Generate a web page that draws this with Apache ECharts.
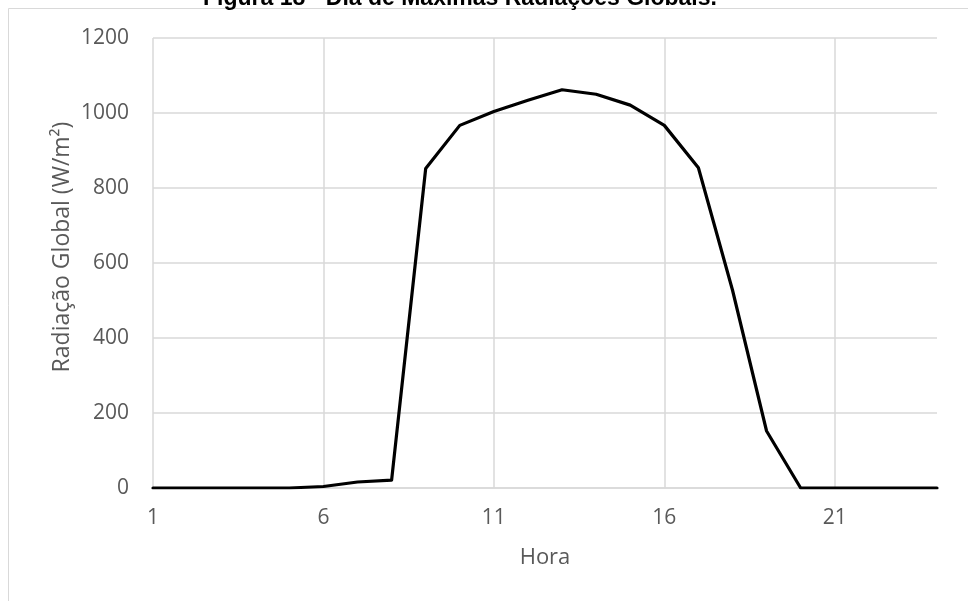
<!DOCTYPE html>
<html>
<head>
<meta charset="utf-8">
<script src="https://cdn.jsdelivr.net/npm/echarts@6/dist/echarts.min.js"></script>
<style>html,body{margin:0;padding:0;background:#fff}#c{width:968px;height:601px}</style>
</head>
<body>
<div id="c"></div>
<script>
const hours = ['1','2','3','4','5','6','7','8','9','10','11','12','13','14','15','16','17','18','19','20','21','22','23','24'];
const radiacao = [0,0,0,0,0,4,16,21,852,967,1004,1034,1062,1050,1021,967,854,528,152,0,0,0,0,0];
const yTicks = [0,200,400,600,800,1000,1200];
const titleText = 'Figura 18 - Dia de Máximas Radiações Globais.';
const xName = 'Hora';
const yName = 'Radiação Global (W/m²)';

const chart = echarts.init(document.getElementById('c'), null, {renderer:'canvas'});
const font = 'Open Sans';
chart.setOption({
  animation:false,
  backgroundColor:'#fff',
  grid:{left:153,right:31,top:38,bottom:113,containLabel:false},
  graphic:[
    {type:'rect',shape:{x:8.5,y:8.5,width:1200,height:1200},style:{fill:null,stroke:'#d9d9d9',lineWidth:1},z:-1,silent:true},
    {type:'text',x:460,y:10,style:{text:titleText,fontSize:23,fontWeight:'bold',fontFamily:'Liberation Sans',fill:'#000',align:'center',verticalAlign:'bottom'}},
    {type:'text',x:62,y:247,rotation:Math.PI/2,style:{text:yName,fontSize:23,fontFamily:font,fill:'#595959',align:'center',verticalAlign:'middle'}}
  ],
  xAxis:{
    type:'category',data:hours,boundaryGap:false,
    name:xName,nameLocation:'middle',nameGap:59,
    nameTextStyle:{fontFamily:font,fontSize:22,color:'#595959'},
    axisLine:{show:true,lineStyle:{color:'#d9d9d9',width:1.5}},
    axisTick:{show:false},
    axisLabel:{interval:4,fontFamily:font,fontSize:21,color:'#595959',margin:20},
    splitLine:{show:true,interval:4,lineStyle:{color:'#d9d9d9',width:1.5}}
  },
  yAxis:{
    type:'value',min:yTicks[0],max:yTicks[yTicks.length-1],interval:200,
    axisLine:{show:false},axisTick:{show:false},
    axisLabel:{fontFamily:font,fontSize:21,color:'#595959',margin:24,formatter:function(v){return String(v);}},
    splitLine:{show:true,lineStyle:{color:'#d9d9d9',width:1.5}}
  },
  series:[{
    type:'line',data:radiacao,symbol:'none',smooth:false,
    lineStyle:{color:'#000',width:3.2,cap:'round',join:'round'}
  }]
});
</script>
</body>
</html>
